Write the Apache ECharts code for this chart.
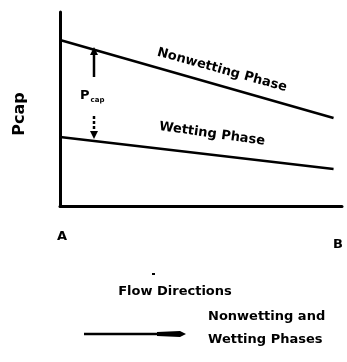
<!DOCTYPE html>
<html>
<head>
<meta charset="utf-8">
<script src="https://cdn.jsdelivr.net/npm/echarts@6/dist/echarts.min.js"></script>
<style>
html,body{margin:0;padding:0;background:#fff;}
#c{width:347px;height:362px;}
</style>
</head>
<body>
<div id="c"></div>
<script>
// Data
var xPoints = [0, 0.97];                 // A -> B along flow direction
var nonwettingPressure = [85.6, 45.4];   // Nonwetting Phase
var wettingPressure = [35.6, 19.1];      // Wetting Phase
var endLabels = ['A', 'B'];
var yAxisName = 'Pcap';

var chart = echarts.init(document.getElementById('c'), null, {renderer: 'canvas'});
var F = '"DejaVu Sans", sans-serif';

function pairs(xs, ys) { return xs.map(function (x, i) { return [x, ys[i]]; }); }

chart.setOption({
  animation: false,
  backgroundColor: '#fff',
  grid: {left: 60, right: 5, top: 12, bottom: 156},
  xAxis: {
    type: 'value', min: 0, max: 1,
    axisLine: {show: true, lineStyle: {color: '#000', width: 3}},
    axisTick: {show: false}, axisLabel: {show: false}, splitLine: {show: false}
  },
  yAxis: {
    type: 'value', min: 0, max: 100,
    axisLine: {show: true, lineStyle: {color: '#000', width: 3}},
    axisTick: {show: false}, axisLabel: {show: false}, splitLine: {show: false}
  },
  series: [
    {
      name: 'Nonwetting Phase', type: 'line', data: pairs(xPoints, nonwettingPressure),
      symbol: 'none', lineStyle: {color: '#000', width: 2.5}
    },
    {
      name: 'Wetting Phase', type: 'line', data: pairs(xPoints, wettingPressure),
      symbol: 'none', lineStyle: {color: '#000', width: 2.5}
    }
  ],
  graphic: [
    // y-axis name
    {type: 'text', x: 20, y: 114, rotation: Math.PI / 2,
      style: {text: yAxisName, font: 'bold 16px ' + F, fill: '#000', align: 'center', verticalAlign: 'middle'}},
    // series labels
    {type: 'text', x: 222, y: 70, rotation: -0.27,
      style: {text: 'Nonwetting Phase', font: 'bold 13px ' + F, fill: '#000', align: 'center', verticalAlign: 'middle'}},
    {type: 'text', x: 212, y: 134, rotation: -0.14,
      style: {text: 'Wetting Phase', font: 'bold 13px ' + F, fill: '#000', align: 'center', verticalAlign: 'middle'}},
    // P cap label
    {type: 'text', x: 80, y: 96,
      style: {text: '{a|P}{b|cap}', fill: '#000', verticalAlign: 'middle',
        rich: {a: {font: 'bold 13px ' + F, fill: '#000'}, b: {font: 'bold 7px ' + F, fill: '#000', padding: [8, 0, 0, 1]}}}},
    // P cap arrow (upper)
    {type: 'line', shape: {x1: 94, y1: 77, x2: 94, y2: 52}, style: {stroke: '#000', lineWidth: 2.5}},
    {type: 'polygon', shape: {points: [[94, 47], [90, 55], [98, 55]]}, style: {fill: '#000'}},
    // P cap arrow (lower, dashed)
    {type: 'line', shape: {x1: 94, y1: 116, x2: 94, y2: 132}, style: {stroke: '#000', lineWidth: 2.5, lineDash: [3, 2]}},
    {type: 'polygon', shape: {points: [[94, 139], [90, 131], [98, 131]]}, style: {fill: '#000'}},
    // A / B
    {type: 'text', x: 62, y: 237, style: {text: endLabels[0], font: 'bold 13px ' + F, fill: '#000', align: 'center', verticalAlign: 'middle'}},
    {type: 'text', x: 338, y: 245, style: {text: endLabels[1], font: 'bold 13px ' + F, fill: '#000', align: 'center', verticalAlign: 'middle'}},
    // small mark
    {type: 'rect', shape: {x: 152, y: 273, width: 3, height: 2}, style: {fill: '#000'}},
    // Flow Directions
    {type: 'text', x: 175, y: 292, style: {text: 'Flow Directions', font: 'bold 13px ' + F, fill: '#000', align: 'center', verticalAlign: 'middle'}},
    // legend arrow
    {type: 'line', shape: {x1: 84, y1: 334, x2: 176, y2: 334}, style: {stroke: '#000', lineWidth: 2.5}},
    {type: 'polygon', shape: {points: [[157, 332], [180, 331], [186, 334], [180, 337], [157, 336]]}, style: {fill: '#000'}},
    {type: 'text', x: 208, y: 317, style: {text: 'Nonwetting and', font: 'bold 13px ' + F, fill: '#000', align: 'left', verticalAlign: 'middle'}},
    {type: 'text', x: 208, y: 340, style: {text: 'Wetting Phases', font: 'bold 13px ' + F, fill: '#000', align: 'left', verticalAlign: 'middle'}}
  ]
});
</script>
</body>
</html>
